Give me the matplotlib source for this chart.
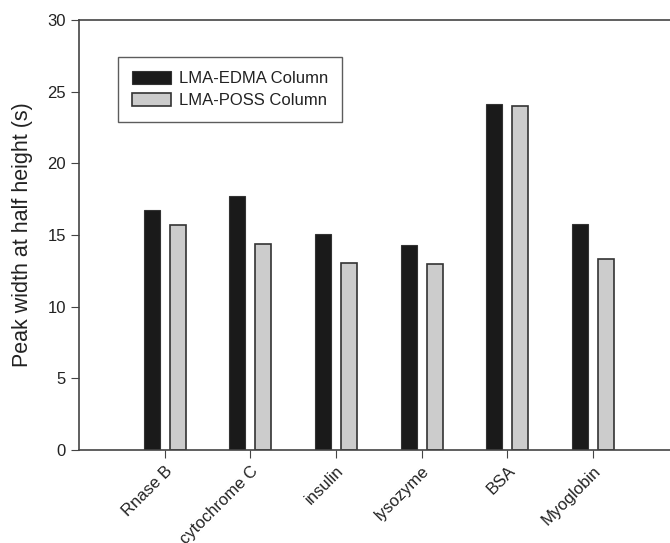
import numpy as np
import matplotlib
matplotlib.use("Agg")
import matplotlib.pyplot as plt
import matplotlib.transforms as mtransforms

proteins = ['Rnase B', 'cytochrome C', 'insulin', 'lysozyme', 'BSA', 'Myoglobin']
edma = [16.75, 17.75, 15.05, 14.33, 24.17, 15.8]
poss = [15.7, 14.35, 13.05, 12.95, 24.03, 13.35]

plt.rcParams['font.family'] = ['Liberation Sans', 'DejaVu Sans']

fig = plt.figure(figsize=(6.7, 5.43), dpi=100)
ax = fig.add_axes([79 / 670, 1 - 450 / 543, 1 - 79 / 670, 430 / 543])

x = np.arange(len(proteins))
w = 0.188
ax.bar(x - 0.152, edma, w, color='#1a1a1a', edgecolor='#333333', linewidth=0.8,
       label='LMA-EDMA Column')
ax.bar(x + 0.152, poss, w, color='#cccccc', edgecolor='#333333', linewidth=1.2,
       label='LMA-POSS Column')

ax.set_xlim(-1.0, 5.9)
ax.set_ylim(0, 30)
ax.set_yticks(range(0, 31, 5))
ax.set_xticks(x)
ax.set_xticklabels(proteins, rotation=45, ha='right', va='top', rotation_mode='anchor',
                   fontsize=12, color='#222222')
off = mtransforms.ScaledTranslation(6 / 100, -2 / 100, fig.dpi_scale_trans)
for lab in ax.get_xticklabels():
    lab.set_transform(lab.get_transform() + off)
ax.tick_params(axis='y', labelsize=12, labelcolor='#222222', direction='out', length=6, color='#444444')
ax.tick_params(axis='x', direction='out', length=6, color='#444444')
ax.set_ylabel('Peak width at half height (s)', fontsize=15.5, color='#222222')
ax.yaxis.set_label_coords(-0.078, 0.5)

for s in ['left', 'bottom', 'top']:
    ax.spines[s].set_color('#444444')
    ax.spines[s].set_linewidth(1.2)
ax.spines['right'].set_visible(False)

leg = ax.legend(loc='upper left', bbox_to_anchor=(39 / 591, 1 - 37 / 430), frameon=True,
                fancybox=False, edgecolor='#333333', fontsize=12, borderaxespad=0,
                handlelength=2.35, handleheight=0.8, handletextpad=0.45,
                borderpad=0.85, labelspacing=0.4)
leg.get_frame().set_linewidth(1.0)
for t in leg.get_texts():
    t.set_color('#222222')

fig.savefig('out.png', dpi=100)
